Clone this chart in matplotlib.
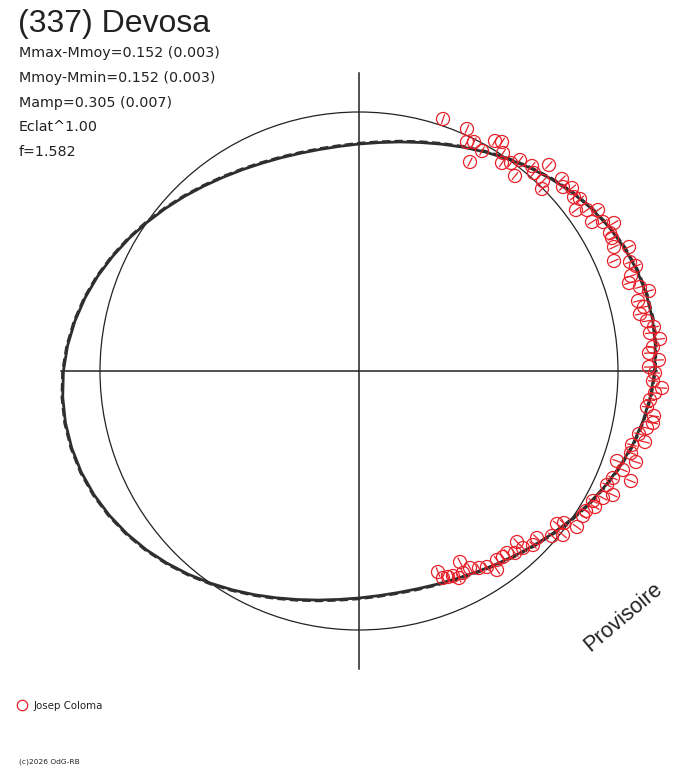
import numpy as np
import matplotlib
matplotlib.use("Agg")
import matplotlib.pyplot as plt
from matplotlib.patches import Circle
from matplotlib.collections import LineCollection

# texts
title = "(337) Devosa"
info_lines = ["Mmax-Mmoy=0.152 (0.003)", "Mmoy-Mmin=0.152 (0.003)",
              "Mamp=0.305 (0.007)", "Eclat^1.00", "f=1.582"]
observer = "Josep Coloma"
credit = "(c)2026 OdG-RB"
stamp = "Provisoire"

# reference circle (mean brightness) and mean lightcurve, polar, chart units
ref_radius = 259
curve_angle = np.arange(0, 361, 5)
curve_half = [295.6, 297.4, 298.1, 297.4, 295.6, 292.5, 288.4, 283.5, 277.9, 271.7,
              265.4, 259.0, 252.8, 246.9, 241.4, 236.6, 232.6, 229.3, 227.0, 225.5,
              225.0, 225.5, 227.0, 229.3, 232.6, 236.6, 241.4, 246.9, 252.8, 259.0,
              265.4, 271.7, 277.9, 283.5, 288.4, 292.5]
curve_radius = curve_half + curve_half + [curve_half[0]]

# observations (x, y in chart units around the centre)
obs_x = [84, 108, 108, 115, 111, 123, 136, 143, 144, 143, 152, 161, 173, 190, 156,
         175, 184, 183, 203, 213, 204, 215, 221, 217, 228, 239, 233, 244, 255, 251,
         253, 255, 270, 255, 271, 277, 272, 270, 281, 290, 279, 285, 281, 288, 295,
         291, 301, 294, 290, 300, 290, 296, 294, 303, 296, 291, 288, 295, 294, 288,
         280, 286, 273, 272, 258, 277, 264, 254, 272, 248, 254, 244, 234, 236, 227,
         224, 218, 205, 198, 204, 193, 178, 158, 174, 164, 156, 148, 144, 138, 138,
         128, 120, 111, 101, 104, 94, 89, 79, 84, 100]
obs_y = [252, 242, 229, 229, 209, 220, 230, 229, 218, 208, 208, 211, 205, 206, 195,
         198, 190, 182, 192, 183, 184, 174, 172, 161, 161, 161, 149, 149, 148, 138,
         133, 124, 124, 110, 109, 105, 95, 88, 84, 80, 70, 64, 57, 50, 44,
         38, 32, 24, 18, 11, 4, -2, -10, -17, -22, -29, -36, -45, -52, -57,
         -63, -71, -74, -82, -90, -91, -99, -107, -110, -114, -124, -127, -130, -136, -140,
         -145, -156, -152, -153, -164, -165, -167, -171, -174, -177, -182, -182, -186, -189, -199,
         -196, -197, -197, -191, -202, -205, -206, -201, -207, -207]

fig = plt.figure(figsize=(6.88, 7.68), dpi=100)
ax = fig.add_axes([0, 0, 1, 1])
ax.set_xlim(-359, 329)
ax.set_ylim(-397, 371)
ax.axis("off")

ink = "#222222"
red = "#e8202a"

# axes cross, as long as the largest curve radius
rmax = max(curve_radius)
ax.plot([-rmax, rmax], [0, 0], color=ink, lw=1.1)
ax.plot([0, 0], [-rmax, rmax], color=ink, lw=1.1)

ax.add_patch(Circle((0, 0), ref_radius, fill=False, color=ink, lw=0.9))

th = np.radians(curve_angle)
cr = np.array(curve_radius)
ax.plot(cr * np.cos(th), cr * np.sin(th), color="#2e2e2e", lw=2.0)
ax.plot((cr + 1.5) * np.cos(th), (cr + 1.5) * np.sin(th), color="#2e2e2e",
        lw=1.0, ls=(0, (6, 3)))

# observed points: open circles with a radial stroke
ox = np.array(obs_x, dtype=float)
oy = np.array(obs_y, dtype=float)
ang = np.arctan2(oy, ox)
half = 5.0
segs = [[(x - half * np.cos(a), y - half * np.sin(a)),
         (x + half * np.cos(a), y + half * np.sin(a))] for x, y, a in zip(ox, oy, ang)]
ax.add_collection(LineCollection(segs, colors=red, linewidths=0.9))
ax.scatter(ox, oy, s=88, facecolors="none", edgecolors=red, linewidths=0.9, zorder=3)

# texts in pixel positions of the page
def px(x, y):
    return x / 688, 1 - y / 768

fig.text(*px(18, 32), title, fontsize=23, family="Liberation Sans", color=ink)
for i, line in enumerate(info_lines):
    fig.text(*px(19, 57 + i * 24.8), line, fontsize=10.3, family="DejaVu Sans",
             color=ink)

fig.text(*px(623, 617), stamp, fontsize=15.5, family="Liberation Sans", color=ink,
         rotation=40, ha="center", va="center", rotation_mode="anchor")

fig.add_artist(plt.Line2D([22 / 688], [1 - 705 / 768], marker="o", ms=7.5,
                          mfc="none", mec=red, mew=0.9, transform=fig.transFigure))
fig.text(*px(34, 706), observer, fontsize=7.4, family="DejaVu Sans", color=ink,
         va="center")
fig.text(*px(19, 762), credit, fontsize=5.4, family="DejaVu Sans", color=ink,
         va="center")

plt.savefig("out.png", dpi=100)
